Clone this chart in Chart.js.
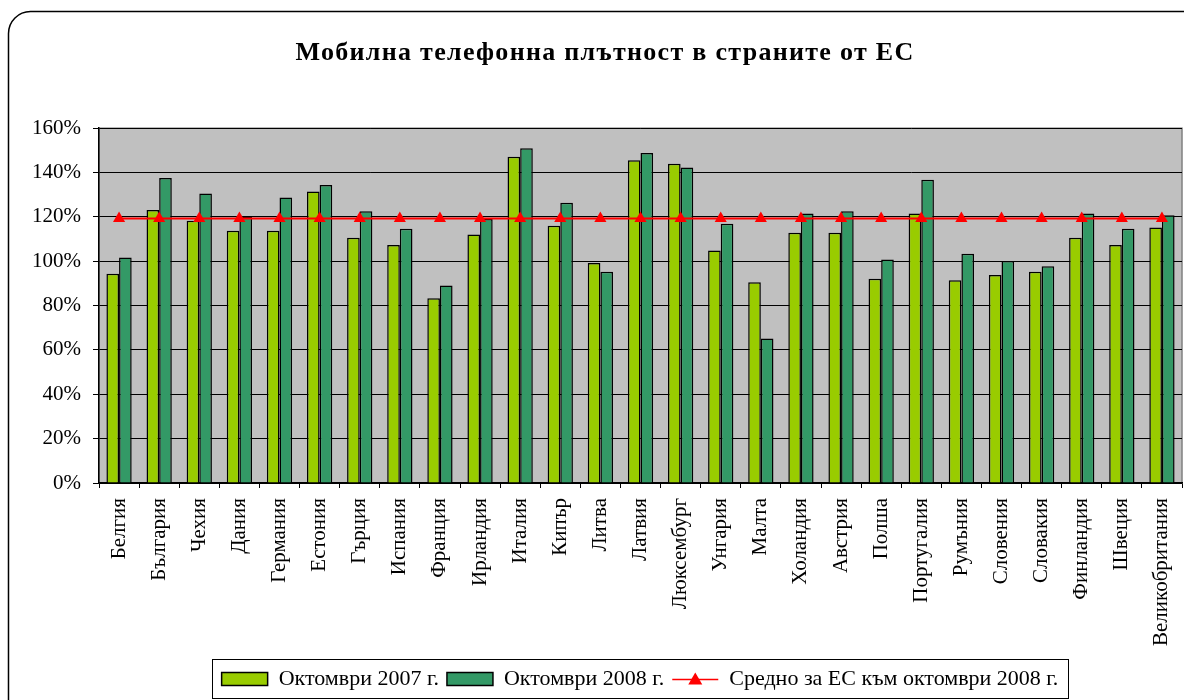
<!DOCTYPE html>
<html>
<head>
<meta charset="utf-8">
<script src="https://cdn.jsdelivr.net/npm/chart.js@4.4.1/dist/chart.umd.min.js"></script>
<style>
  html, body { margin: 0; padding: 0; background: #fff; }
  #wrap { width: 1184px; height: 700px; }
</style>
</head>
<body>
<div id="wrap"><canvas id="myChart" width="1184" height="700"></canvas></div>
<script>
// данни по държави (% мобилна плътност)
var countries = ['Белгия', 'България', 'Чехия', 'Дания', 'Германия', 'Естония', 'Гърция', 'Испания', 'Франция',
	'Ирландия', 'Италия', 'Кипър', 'Литва', 'Латвия', 'Люксембург', 'Унгария', 'Малта', 'Холандия', 'Австрия',
	'Полша', 'Португалия', 'Румъния', 'Словения', 'Словакия', 'Финландия', 'Швеция', 'Великобритания'];

var oct2007 = [94.4, 123.1, 118.3, 113.7, 113.7, 131.4, 110.6, 107.3, 83.3,
	112.1, 147.1, 116.0, 99.2, 145.5, 144.0, 104.9, 90.5, 112.8, 112.8,
	92.1, 121.5, 91.4, 93.8, 95.3, 110.6, 107.3, 115.2];

var oct2008 = [101.7, 137.5, 130.5, 120.0, 128.8, 134.4, 122.6, 114.6, 89.1,
	119.0, 151.0, 126.4, 95.3, 148.8, 142.3, 116.9, 65.2, 121.5, 122.6,
	100.8, 136.8, 103.4, 100.1, 97.8, 121.5, 114.6, 120.8];

var euAvg2008 = [119.3, 119.3, 119.3, 119.3, 119.3, 119.3, 119.3, 119.3, 119.3,
	119.3, 119.3, 119.3, 119.3, 119.3, 119.3, 119.3, 119.3, 119.3, 119.3,
	119.3, 119.3, 119.3, 119.3, 119.3, 119.3, 119.3, 119.3];

var yTicks = [0, 20, 40, 60, 80, 100, 120, 140, 160];

var chartTitle = 'Мобилна телефонна плътност в страните от ЕС';

var serif = '"Liberation Serif", "DejaVu Serif", serif';

// рамка, сив фон на графиката, заглавие и рамка на легендата
var framePlugin = {
	id: 'frame',
	afterLayout: function(chart) {
		// легендата в оригинала е малко вдясно от центъра
		chart.legend.left += 44;
		chart.legend.right += 44;
	},
	beforeDraw: function(chart) {
		var ctx = chart.ctx, a = chart.chartArea;
		ctx.save();
		ctx.fillStyle = '#fff';
		ctx.fillRect(0, 0, chart.width, chart.height);
		ctx.strokeStyle = '#000';
		ctx.lineWidth = 1.5;
		ctx.beginPath();
		ctx.roundRect(8.5, 11.5, 1200, 720, 22);
		ctx.stroke();
		ctx.fillStyle = '#C0C0C0';
		ctx.fillRect(a.left, a.top, a.right - a.left, a.bottom - a.top);
		ctx.strokeStyle = '#808080';
		ctx.lineWidth = 1.5;
		ctx.strokeRect(a.left, a.top, a.right - a.left, a.bottom - a.top);
		ctx.restore();
	},
	afterDraw: function(chart) {
		var ctx = chart.ctx, lg = chart.legend;
		var tb = chart.titleBlock;
		ctx.save();
		// заглавие с разредени букви
		ctx.fillStyle = '#000';
		ctx.font = 'bold 26px ' + serif;
		ctx.letterSpacing = '1.3px';
		ctx.textAlign = 'center';
		ctx.textBaseline = 'middle';
		ctx.fillText(chartTitle, 605, tb.top + 53);
		ctx.letterSpacing = '0px';
		ctx.restore();

		var boxes = lg.legendHitBoxes;
		if (!boxes || !boxes.length) return;
		var first = boxes[0], last = boxes[boxes.length - 1];
		ctx.save();
		ctx.strokeStyle = '#000';
		ctx.lineWidth = 1;
		ctx.strokeRect(Math.round(first.left) - 9.5, Math.round(first.top) - 8.5,
			Math.round(last.left + last.width - first.left) + 19, Math.round(first.height) + 17);
		// символ за линията със средното
		var hb = boxes[2];
		var cy = Math.round(hb.top + hb.height / 2) + 0.5;
		ctx.strokeStyle = '#FF0000';
		ctx.lineWidth = 1.5;
		ctx.beginPath();
		ctx.moveTo(hb.left, cy);
		ctx.lineTo(hb.left + 46, cy);
		ctx.stroke();
		ctx.fillStyle = '#FF0000';
		ctx.beginPath();
		ctx.moveTo(hb.left + 23, cy - 7);
		ctx.lineTo(hb.left + 30, cy + 5);
		ctx.lineTo(hb.left + 16, cy + 5);
		ctx.closePath();
		ctx.fill();
		ctx.restore();
	}
};

var ctx = document.getElementById('myChart');

var myChart = new Chart(ctx, {
	data: {
		labels: countries,
		datasets: [{
			type: 'bar',
			label: 'Октомври 2007 г.',
			data: oct2007,
			backgroundColor: '#99CC00',
			borderColor: '#000',
			borderWidth: 1.5,
			categoryPercentage: 0.63,
			barPercentage: 1.0,
			order: 2
		}, {
			type: 'bar',
			label: 'Октомври 2008 г.',
			data: oct2008,
			backgroundColor: '#339966',
			borderColor: '#000',
			borderWidth: 1.5,
			categoryPercentage: 0.63,
			barPercentage: 1.0,
			order: 2
		}, {
			type: 'line',
			label: 'Средно за ЕС към октомври 2008 г.',
			data: euAvg2008,
			borderColor: '#FF0000',
			backgroundColor: '#FF0000',
			borderWidth: 2,
			pointStyle: 'triangle',
			pointRadius: 7,
			pointBorderWidth: 0,
			pointBackgroundColor: '#FF0000',
			fill: false,
			order: 1
		}]
	},
	options: {
		responsive: false,
		animation: false,
		layout: { autoPadding: false, padding: { left: 10, right: 2, top: 0, bottom: 0 } },
		scales: {
			x: {
				grid: { drawOnChartArea: false, drawTicks: true, tickLength: 5, color: '#000', offset: true },
				border: { color: '#000', width: 1.5 },
				ticks: {
					color: '#000',
					font: { family: serif, size: 21 },
					minRotation: 90,
					maxRotation: 90,
					autoSkip: false,
					padding: 10
				},
				afterFit: function(scale) {
					scale.height = 177;
					scale.paddingLeft = 0;
					scale.paddingRight = 0;
				}
			},
			y: {
				min: 0,
				max: 160,
				afterBuildTicks: function(scale) {
					scale.ticks = yTicks.map(function(v) { return { value: v }; });
				},
				grid: { color: '#000', lineWidth: 1, tickLength: 6 },
				border: { color: '#000', width: 1.5 },
				ticks: {
					color: '#000',
					font: { family: serif, size: 21 },
					padding: 12,
					callback: function(v) { return v + '%'; }
				},
				afterFit: function(scale) {
					scale.width = 89;
					scale.paddingTop = 0;
					scale.paddingBottom = 0;
				}
			}
		},
		plugins: {
			title: {
				display: true,
				text: chartTitle,
				color: 'rgba(0,0,0,0)',
				font: { family: serif, size: 26, weight: 'bold' },
				padding: { top: 26, bottom: 71 }
			},
			legend: {
				position: 'bottom',
				labels: {
					color: '#000',
					font: { family: serif, size: 22 },
					boxWidth: 46,
					boxHeight: 13,
					padding: 8,
					sort: function(a, b) { return a.datasetIndex - b.datasetIndex; },
					generateLabels: function(chart) {
						var items = Chart.defaults.plugins.legend.labels.generateLabels(chart);
						items.forEach(function(it) {
							it.lineWidth = 1.5;
							it.strokeStyle = '#000';
							if (it.datasetIndex === 2) {
								it.fillStyle = 'rgba(0,0,0,0)';
								it.strokeStyle = 'rgba(0,0,0,0)';
								it.lineWidth = 0;
							}
						});
						return items;
					}
				}
			},
			tooltip: { enabled: false }
		}
	},
	plugins: [framePlugin]
});
</script>
</body>
</html>
